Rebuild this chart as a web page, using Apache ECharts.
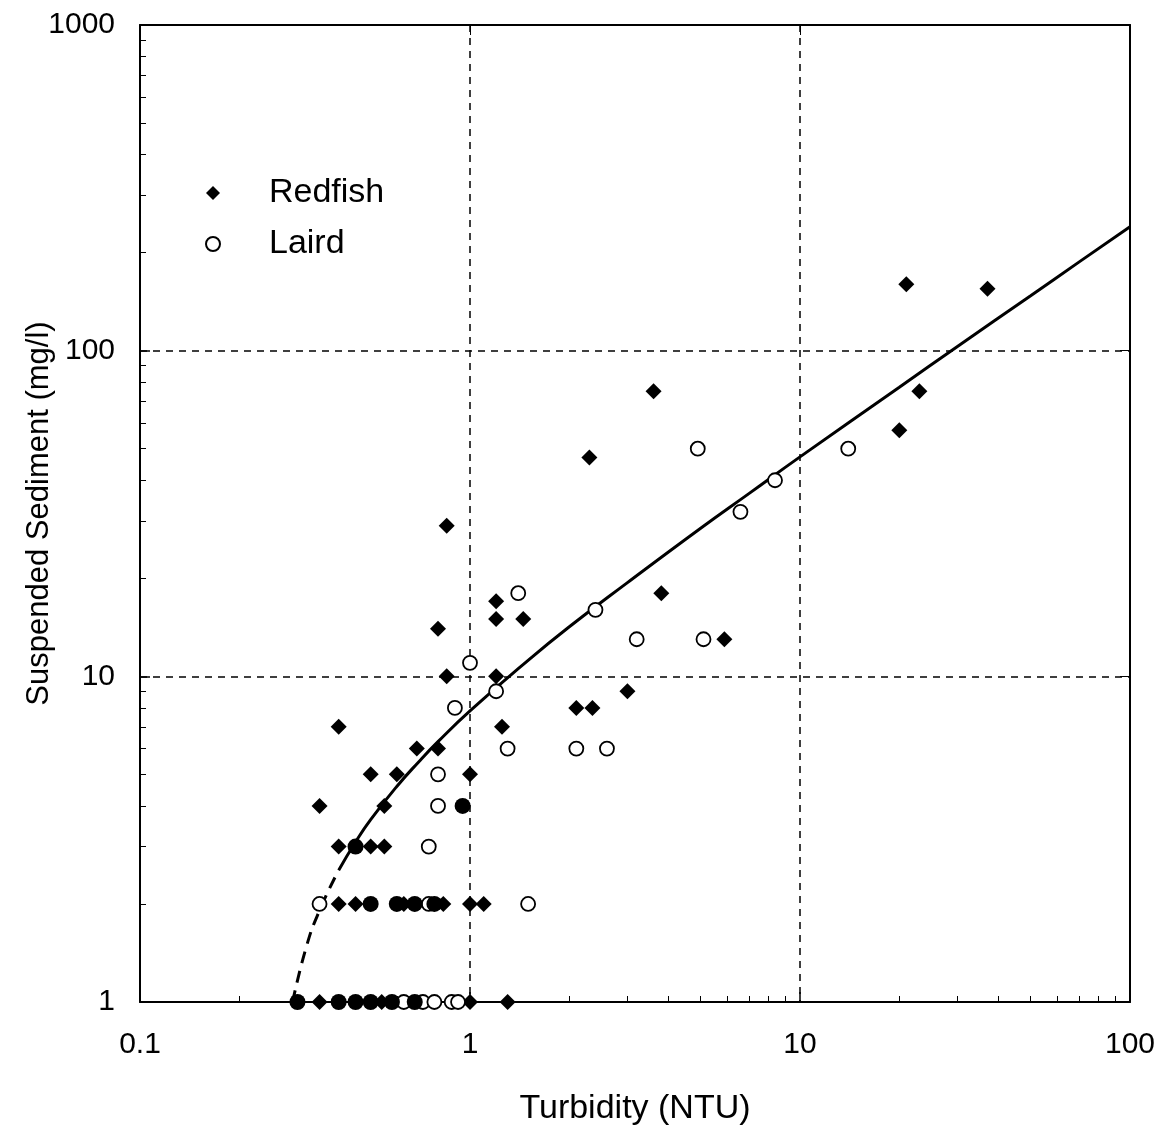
<!DOCTYPE html>
<html>
<head>
<meta charset="utf-8">
<script src="https://cdn.jsdelivr.net/npm/echarts@6/dist/echarts.min.js"></script>
<style>
  html, body { margin: 0; padding: 0; background: #fff; }
  #chart { width: 1158px; height: 1132px; }
</style>
</head>
<body>
<div id="chart"></div>
<script>
// Redfish samples [turbidity NTU, suspended sediment mg/l]
var redfish = [
  [1.2, 17], [1.2, 15], [1.45, 15], [0.8, 14], [0.85, 29], [0.85, 10], [1.2, 10],
  [0.4, 7], [1.25, 7], [0.69, 6], [0.8, 6], [0.5, 5], [0.6, 5], [1.0, 5],
  [0.35, 4], [0.55, 4], [0.4, 3], [0.5, 3], [0.55, 3],
  [0.4, 2], [0.45, 2], [0.63, 2], [0.83, 2], [1.0, 2], [1.1, 2],
  [0.35, 1], [0.54, 1], [1.0, 1], [1.3, 1],
  [3.6, 75], [2.3, 47], [3.8, 18], [5.9, 13], [3.0, 9], [2.1, 8], [2.35, 8],
  [21, 160], [37, 155], [23, 75], [20, 57]
];
// Laird samples
var laird = [
  [1.4, 18], [1.0, 11], [1.2, 9], [0.9, 8], [1.3, 6], [0.8, 5], [0.8, 4], [0.75, 3],
  [0.35, 2], [0.75, 2], [1.5, 2],
  [0.63, 1], [0.72, 1], [0.78, 1], [0.88, 1], [0.92, 1],
  [4.9, 50], [14, 50], [8.4, 40], [6.6, 32], [2.4, 16], [3.2, 13], [5.1, 13], [2.1, 6], [2.6, 6]
];
// points where both sites overlap (drawn as filled circles)
var both = [
  [0.95, 4], [0.45, 3], [0.5, 2], [0.6, 2], [0.68, 2], [0.78, 2],
  [0.3, 1], [0.4, 1], [0.45, 1], [0.5, 1], [0.58, 1], [0.68, 1]
];
// rating curve
var fitDashed = [[0.29, 1.0], [0.32, 1.49], [0.35, 1.91], [0.4, 2.54]];
var fitSolid = [
  [0.4, 2.54], [0.45, 3.1], [0.5, 3.63], [0.6, 4.59], [0.7, 5.47], [0.8, 6.3],
  [1.0, 7.83], [1.5, 11.2], [2, 14.2], [3, 19.4], [5, 28.5], [7, 36.4], [10, 47.2],
  [20, 77.2], [30, 103], [50, 147.5], [70, 187], [100, 240]
];

var font = "'Liberation Sans', Arial, sans-serif";
var chart = echarts.init(document.getElementById("chart"));

var gridLine = { show: true, lineStyle: { color: "#000", type: [7, 6], width: 1.5 } };

chart.setOption({
  backgroundColor: "#fff",
  animation: false,
  grid: { left: 140, right: 28, top: 25, bottom: 130, outerBoundsMode: "none" },
  legend: {
    left: 200, top: 171, orient: "vertical", itemGap: 17,
    itemWidth: 14, itemHeight: 14,
    data: ["Redfish", "Laird"],
    textStyle: { fontFamily: font, fontSize: 34, color: "#000", padding: [0, 0, 0, 44] }
  },
  xAxis: [
    {
      type: "log", logBase: 10, min: 0.1, max: 100,
      name: "Turbidity (NTU)", nameLocation: "middle", nameGap: 90,
      nameTextStyle: { fontFamily: font, fontSize: 34, color: "#000" },
      axisLine: { lineStyle: { color: "#000", width: 2 } },
      axisTick: { inside: true, length: 10, lineStyle: { color: "#000", width: 1.5 } },
      minorTick: { show: true, splitNumber: 9, length: 6, lineStyle: { color: "#000" } },
      axisLabel: { fontFamily: font, fontSize: 30, color: "#000", margin: 28,
        formatter: function (v) { return String(v); } },
      splitLine: gridLine
    },
    {
      type: "log", logBase: 10, min: 0.1, max: 100, position: "top",
      axisLine: { lineStyle: { color: "#000", width: 2 } },
      axisTick: { inside: true, length: 10, lineStyle: { color: "#000" } },
      axisLabel: { show: false }, splitLine: { show: false }
    }
  ],
  yAxis: [
    {
      type: "log", logBase: 10, min: 1, max: 1000,
      name: "Suspended Sediment (mg/l)", nameLocation: "middle", nameGap: 85,
      nameMoveOverlap: false,
      nameTextStyle: { fontFamily: font, fontSize: 31, color: "#000" },
      axisLine: { show: true, lineStyle: { color: "#000", width: 2 } },
      axisTick: { show: true, inside: true, length: 10, lineStyle: { color: "#000", width: 1.5 } },
      minorTick: { show: true, splitNumber: 9, length: 6, lineStyle: { color: "#000" } },
      axisLabel: { fontFamily: font, fontSize: 30, color: "#000", margin: 25,
        formatter: function (v) { return String(v); } },
      splitLine: gridLine
    },
    {
      type: "log", logBase: 10, min: 1, max: 1000, position: "right",
      axisLine: { show: true, lineStyle: { color: "#000", width: 2 } },
      axisTick: { show: true, inside: true, length: 10, lineStyle: { color: "#000" } },
      axisLabel: { show: false }, splitLine: { show: false }
    }
  ],
  series: [
    {
      name: "fit", type: "line", data: fitDashed, showSymbol: false, smooth: true,
      lineStyle: { color: "#000", width: 3, type: [12, 8] }, z: 1
    },
    {
      name: "fit2", type: "line", data: fitSolid, showSymbol: false, smooth: true,
      lineStyle: { color: "#000", width: 3 }, z: 1
    },
    {
      name: "Redfish", type: "scatter", data: redfish, symbol: "diamond", symbolSize: 16,
      itemStyle: { color: "#000", opacity: 1 }, z: 3
    },
    {
      name: "Laird", type: "scatter", data: laird, symbol: "circle", symbolSize: 14,
      itemStyle: { color: "#fff", borderColor: "#000", borderWidth: 1.8, opacity: 1 }, z: 4
    },
    {
      name: "both", type: "scatter", data: both, symbol: "circle", symbolSize: 16,
      itemStyle: { color: "#000", opacity: 1 }, z: 5
    }
  ]
});
</script>
</body>
</html>
